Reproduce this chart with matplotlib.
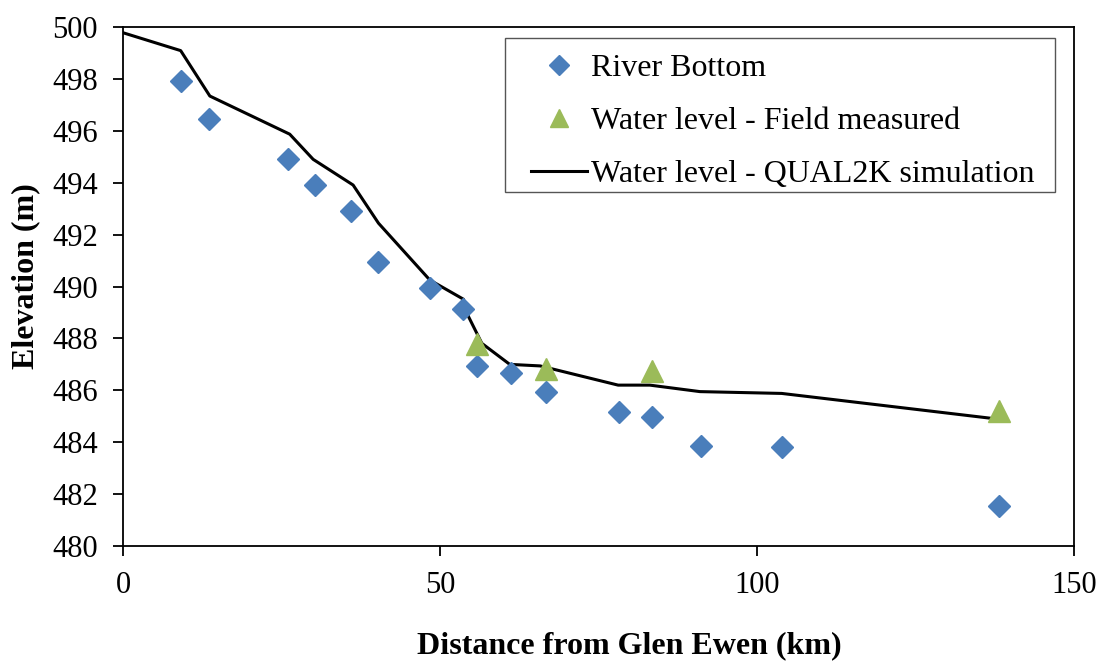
import matplotlib.pyplot as plt
from matplotlib.patches import Rectangle

# River bottom survey points (distance km, elevation m)
bottom_km = [9.1, 13.6, 26.1, 30.3, 36.0, 40.2, 48.4, 53.7, 55.8, 61.2, 66.7,
             78.2, 83.5, 91.2, 104.0, 138.2]
bottom_elev = [497.92, 496.44, 494.90, 493.91, 492.92, 490.93, 489.93, 489.12,
               486.94, 486.68, 485.92, 485.15, 484.96, 483.85, 483.83, 481.54]

# Field measured water levels
field_km = [55.8, 66.7, 83.5, 138.2]
field_elev = [487.80, 486.83, 486.74, 485.19]

# QUAL2K simulated water surface profile
sim_km = [0.0, 9.1, 13.7, 26.3, 30.0, 36.3, 40.3, 48.4, 53.7, 54.5, 56.6,
          61.0, 65.8, 78.1, 83.1, 91.0, 103.9, 137.0]
sim_elev = [499.78, 499.09, 497.34, 495.87, 494.90, 493.91, 492.44, 490.25,
            489.51, 488.84, 487.81, 487.00, 486.94, 486.20, 486.20, 485.95,
            485.88, 484.92]

plt.rcParams['font.family'] = ['Liberation Serif', 'DejaVu Serif']

W, H = 1103, 662
fig = plt.figure(figsize=(W / 100, H / 100), dpi=100)
ax = fig.add_axes([0.1115, 0.1752, 0.8622, 0.7840])

ax.plot(bottom_km, bottom_elev, linestyle='none', marker='D', ms=11.5,
        color='#4A7EBB', label='River Bottom', zorder=3)
ax.plot(field_km, field_elev, linestyle='none', marker='^', ms=16,
        color='#9BBB59', label='Water level - Field measured', zorder=4)
ax.plot(sim_km, sim_elev, color='black', lw=2.2,
        label='Water level - QUAL2K simulation', zorder=2)

ax.set_xlim(0, 150)
ax.set_ylim(480, 500)
ax.set_xticks([0, 50, 100, 150])
ax.set_yticks(range(480, 501, 2))
ax.tick_params(axis='both', direction='out', length=7, width=1.3,
               labelsize=22, pad=11)

for spine in ax.spines.values():
    spine.set_linewidth(1.3)
    spine.set_color('black')

ax.set_xlabel('Distance from Glen Ewen (km)', fontsize=23, fontweight='bold')
ax.xaxis.set_label_coords(0.532, -0.165)
ax.set_ylabel('Elevation (m)', fontsize=23, fontweight='bold')
ax.yaxis.set_label_coords(-0.087, 0.52)

# legend entries without their own frame, boxed by a plain rectangle
leg = ax.legend(loc='upper left', bbox_to_anchor=(531 / W, 1 - 54 / H),
                bbox_transform=fig.transFigure, fontsize=23, frameon=False,
                borderaxespad=0, borderpad=0, handlelength=1.75,
                handletextpad=0.12, labelspacing=0.73, markerscale=0.85)
fig.patches.append(Rectangle((505 / W, 1 - 192 / H), 550 / W, 154 / H,
                             transform=fig.transFigure, fill=False,
                             edgecolor='#555555', linewidth=1.0, zorder=5))

fig.savefig('out.png', dpi=100)
